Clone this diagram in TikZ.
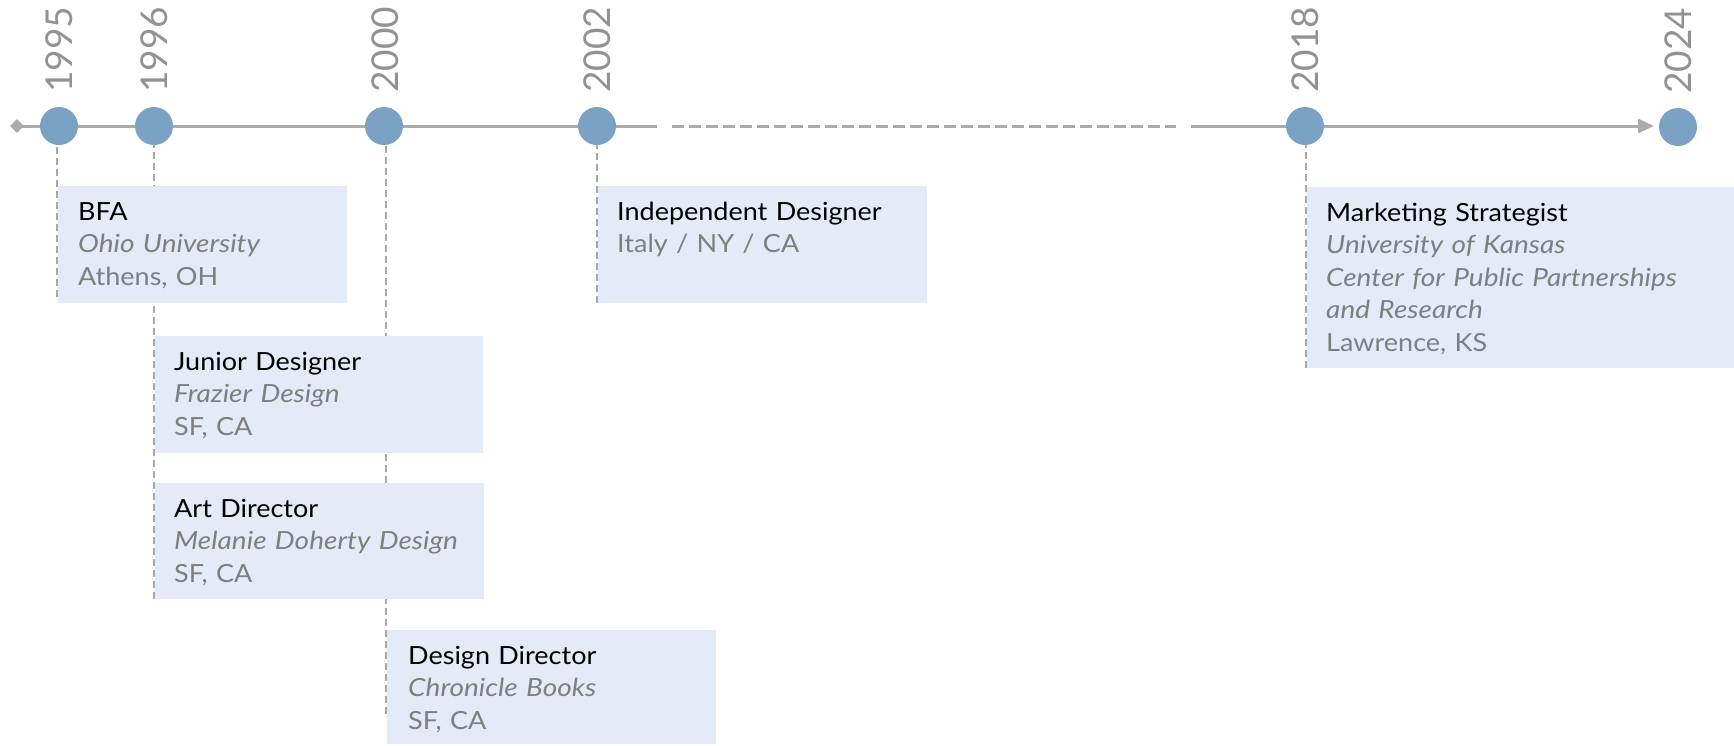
\documentclass[tikz,border=0pt]{standalone}
\usepackage{fontspec}
\setmainfont{Lato}[UprightFeatures={FakeStretch=1.08},ItalicFeatures={FakeStretch=1.12}]
\newfontfamily\yearfont{Lato}
\usetikzlibrary{arrows.meta,calc,shapes.geometric}
\pgfdeclarelayer{background}
\pgfsetlayers{background,main}
\definecolor{dotc}{HTML}{7BA1C5}
\definecolor{linec}{HTML}{ABABAB}
\definecolor{vlinec}{HTML}{A8A8A8}
\definecolor{boxc}{HTML}{E5EAF8}
\definecolor{graytxt}{HTML}{7F7F7F}
\definecolor{yearc}{HTML}{929292}
\newcommand{\orgtext}[1]{{\color{graytxt}\itshape #1}}
\newcommand{\loctext}[1]{{\color{graytxt}#1}}
\begin{document}
\begin{tikzpicture}[x=1pt,y=-1pt,
  dot/.style={circle,fill=dotc,minimum size=38pt,inner sep=0pt},
  yearlbl/.style={rotate=90,anchor=west,inner sep=0pt,text=yearc,font=\yearfont\fontsize{37}{37}\selectfont},
  evbox/.style={fill=boxc,anchor=north west,inner sep=0pt},
  evtxt/.style={anchor=north west,inner sep=0pt,text width=420pt,align=left,font=\fontsize{25}{32.5}\selectfont},
  vline/.style={draw=vlinec,line width=1.6pt,dash pattern=on 7pt off 4pt},
  tl/.style={draw=linec,line width=3pt}
]
\useasboundingbox (0,0) rectangle (1734,745);

% boxes
\node[evbox,minimum width=289pt,minimum height=117pt] (b1) at (58,186) {};
\node[evbox,minimum width=328pt,minimum height=117pt] (b2) at (155,336) {};
\node[evbox,minimum width=329pt,minimum height=116pt] (b3) at (155,483) {};
\node[evbox,minimum width=329pt,minimum height=114pt] (b4) at (387,630) {};
\node[evbox,minimum width=329pt,minimum height=117pt] (b5) at (598,186) {};
\node[evbox,minimum width=427pt,minimum height=181pt] (b6) at (1307,187) {};

% timeline
\node[diamond,fill=linec,minimum size=14pt,inner sep=0pt] (dm) at (17,126) {};
\coordinate (g1) at (657,126);
\coordinate (g2) at (672,126);
\coordinate (g3) at (1176,126);
\coordinate (g4) at (1191,126);
\coordinate (tend) at (1654,126);
\draw[tl] (dm.center) -- (g1);
\draw[tl,dash pattern=on 12pt off 5pt] (g2) -- (g3);
\draw[tl,-{Triangle[length=16pt,width=14pt]}] (g4) -- (tend);

% dots coordinates
\coordinate (c1) at (59,126);
\coordinate (c2) at (154,126);
\coordinate (c3) at (384,126);
\coordinate (c4) at (597,126);
\coordinate (c5) at (1305,126);
\coordinate (c6) at (1678,127);

% dashed connectors (behind the boxes)
\begin{pgfonlayer}{background}
\draw[vline] ($(b1.south west)+(-1,-6)$) -- ($(b1.south west |- c1)+(-1,0)$);
\draw[vline] ($(b3.south west)+(-1,0)$) -- ($(b3.south west |- c2)+(-1,0)$);
\draw[vline] ($(b4.south west)+(-1,-30)$) -- ($(b4.south west |- c3)+(-1,0)$);
\draw[vline] ($(b5.south west)+(-1,0)$) -- ($(b5.south west |- c4)+(-1,0)$);
\draw[vline] ($(b6.south west)+(-1,0)$) -- ($(b6.south west |- c5)+(-1,0)$);
\end{pgfonlayer}

% dots
\node[dot] (d1) at (c1) {};
\node[dot] (d2) at (c2) {};
\node[dot] (d3) at (c3) {};
\node[dot] (d4) at (c4) {};
\node[dot] (d5) at (c5) {};
\node[dot] (d6) at (c6) {};

% years
\node[yearlbl] (y1) at ($(d1.center)+(0,-33)$) {1995};
\node[yearlbl] (y2) at ($(d2.center)+(0,-33)$) {1996};
\node[yearlbl] (y3) at ($(d3.center)+(1,-33)$) {2000};
\node[yearlbl] (y4) at ($(d4.center)+(0,-33)$) {2002};
\node[yearlbl] (y5) at ($(d5.center)+(0,-33)$) {2018};
\node[yearlbl] (y6) at ($(d6.center)+(0,-33)$) {2024};

% texts
\node[evtxt] (t1) at ($(b1.north west)+(20,11.25)$) {\strut BFA\\\strut\orgtext{Ohio University}\\\strut\loctext{Athens, OH}};
\node[evtxt] (t2) at ($(b2.north west)+(19,11.25)$) {\strut Junior Designer\\\strut\orgtext{Frazier Design}\\\strut\loctext{SF, CA}};
\node[evtxt] (t3) at ($(b3.north west)+(19,11.25)$) {\strut Art Director\\\strut\orgtext{Melanie Doherty Design}\\\strut\loctext{SF, CA}};
\node[evtxt] (t4) at ($(b4.north west)+(21,11.25)$) {\strut Design Director\\\strut\orgtext{Chronicle Books}\\\strut\loctext{SF, CA}};
\node[evtxt] (t5) at ($(b5.north west)+(19,11.25)$) {\strut Independent Designer\\\strut\loctext{Italy / NY / CA}};
\node[evtxt] (t6) at ($(b6.north west)+(19,11.25)$) {\strut Marketing Strategist\\\strut\orgtext{University of Kansas}\\\strut\orgtext{Center for Public Partnerships}\\\strut\orgtext{and Research}\\\strut\loctext{Lawrence, KS}};
\end{tikzpicture}
\end{document}
